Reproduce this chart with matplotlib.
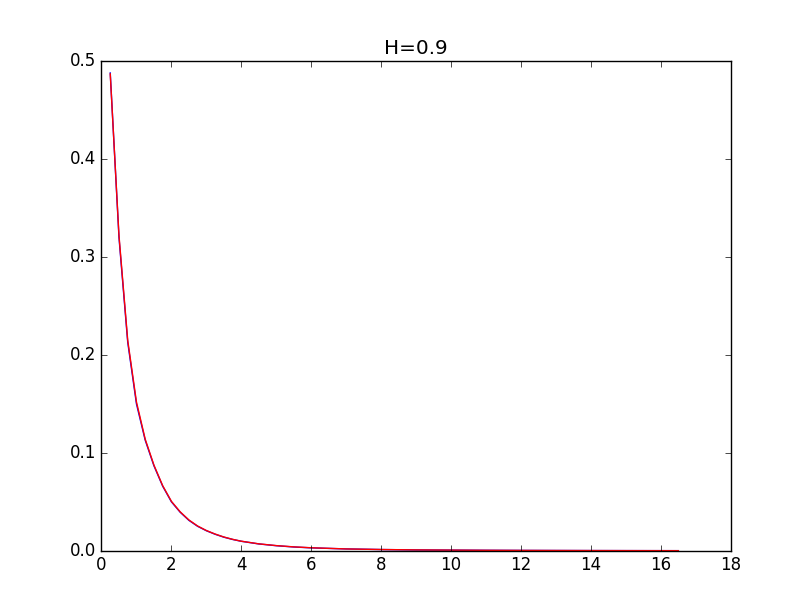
import matplotlib
matplotlib.use('Agg')
import matplotlib.pyplot as plt

plt.style.use('classic')

x = [0.25, 0.5, 0.75, 1.0, 1.25, 1.5, 1.75, 2.0, 2.25, 2.5, 2.75, 3.0, 3.25,
     3.5, 3.75, 4.0, 4.5, 5.0, 5.5, 6.0, 7.0, 8.0, 9.0, 10.0, 11.0, 12.0,
     13.0, 14.0, 15.0, 16.0, 16.5]
y_blue = [0.488, 0.320, 0.213, 0.150, 0.113, 0.0868, 0.0660, 0.0500, 0.0394,
          0.0311, 0.0250, 0.0205, 0.0169, 0.0139, 0.0116, 0.0097, 0.0070,
          0.0052, 0.0039, 0.0030, 0.0019, 0.0013, 0.0009, 0.0007, 0.00052,
          0.0004, 0.00032, 0.00025, 0.0002, 0.00016, 0.00014]
y_red = [0.487, 0.322, 0.215, 0.152, 0.114, 0.0875, 0.0665, 0.0505, 0.0398,
         0.0315, 0.0253, 0.0207, 0.0171, 0.0141, 0.0117, 0.0098, 0.0071,
         0.0053, 0.0040, 0.0031, 0.0019, 0.0013, 0.0009, 0.0007, 0.00052,
         0.0004, 0.00032, 0.00025, 0.0002, 0.00016, 0.00014]

fig = plt.figure(figsize=(8.12, 6.12), dpi=100)
ax = fig.add_subplot(111)
ax.plot(x, y_blue, color='b')
ax.plot(x, y_red, color='r')
ax.set_xlim(0, 18)
ax.set_ylim(0, 0.5)
ax.set_title('H=0.9')
fig.savefig('out.png', dpi=100)
